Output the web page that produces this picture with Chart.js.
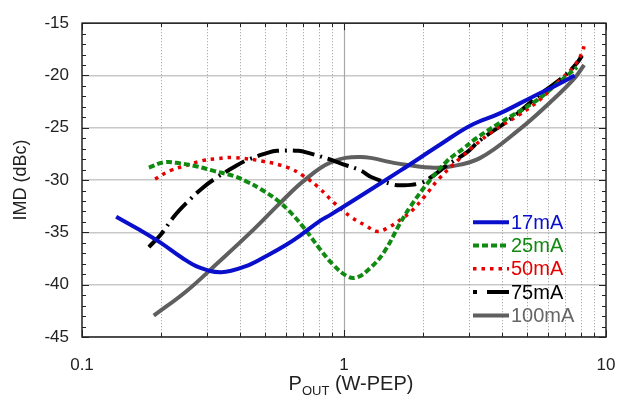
<!DOCTYPE html>
<html>
<head>
<meta charset="utf-8">
<script src="https://cdn.jsdelivr.net/npm/chart.js@4/dist/chart.umd.min.js"></script>
<style>
  html, body { margin: 0; padding: 0; background: #fff; }
  #wrap { width: 617px; height: 400px; }
</style>
</head>
<body>
<div id="wrap"><canvas id="myChart" width="617" height="400"></canvas></div>
<script>
// values: output power (W-PEP) and IMD (dBc) per bias current
var labels = ['17mA', '25mA', '50mA', '75mA', '100mA'];

var pout17 = [0.135, 0.167, 0.2, 0.24, 0.28, 0.34, 0.42, 0.51, 0.6, 0.68, 0.81, 0.89, 1.16, 1.64, 2.33, 3.03, 3.95, 5.28, 6.5, 7.6];
var imd17 = [-33.5, -34.8, -36.0, -37.4, -38.35, -38.8, -38.25, -37.2, -36.2, -35.3, -33.9, -33.3, -31.5, -29.1, -26.6, -24.8, -23.6, -22.0, -20.9, -20.0];

var pout25 = [0.18, 0.205, 0.237, 0.275, 0.316, 0.378, 0.43, 0.48, 0.555, 0.62, 0.70, 0.81, 0.91, 1.03, 1.12, 1.26, 1.42, 1.64, 1.79, 2.07, 2.47, 2.85, 3.2, 3.95, 5.28, 6.3, 7.75];
var imd25 = [-28.8, -28.3, -28.4, -28.7, -29.1, -29.6, -30.2, -30.85, -31.9, -33.0, -34.5, -36.6, -38.1, -39.2, -39.3, -38.4, -36.9, -34.1, -32.55, -30.4, -28.2, -27.0, -26.0, -24.5, -22.6, -21.1, -19.2];

var pout50 = [0.19, 0.217, 0.25, 0.287, 0.33, 0.378, 0.49, 0.61, 0.70, 0.8, 0.91, 1.06, 1.22, 1.33, 1.46, 1.68, 1.82, 2.04, 2.3, 2.78, 3.62, 4.7, 5.6, 6.7, 7.5, 8.15, 8.25];
var imd50 = [-29.9, -29.1, -28.6, -28.15, -27.95, -27.85, -28.2, -28.8, -29.6, -30.7, -32.1, -33.5, -34.4, -34.9, -34.6, -33.6, -32.9, -31.5, -29.9, -27.9, -25.5, -23.7, -22.3, -20.4, -19.2, -17.7, -17.0];

var pout75 = [0.18, 0.2, 0.224, 0.25, 0.29, 0.327, 0.385, 0.43, 0.51, 0.555, 0.67, 0.73, 0.89, 0.97, 1.16, 1.27, 1.53, 1.66, 1.95, 2.14, 2.5, 2.96, 3.3, 4.4, 5.6, 6.9, 7.75, 8.1];
var imd75 = [-36.4, -35.2, -33.5, -32.2, -30.7, -29.75, -28.67, -28.05, -27.4, -27.2, -27.2, -27.4, -28.05, -28.4, -29.1, -29.7, -30.4, -30.5, -30.3, -29.75, -28.5, -27.3, -26.2, -24.0, -21.8, -20.1, -18.8, -18.1];

var pout100 = [0.188, 0.251, 0.327, 0.44, 0.57, 0.70, 0.89, 1.16, 1.59, 2.14, 2.54, 3.3, 4.7, 6.1, 7.5, 8.25];
var imd100 = [-42.96, -40.6, -38.0, -35.0, -32.2, -30.1, -28.3, -27.8, -28.4, -28.8, -28.7, -27.9, -25.1, -22.6, -20.4, -19.0];

var xTicks = [0.1, 0.2, 0.3, 0.4, 0.5, 0.6, 0.7, 0.8, 0.9, 1, 2, 3, 4, 5, 6, 7, 8, 9, 10];
var xLabelled = [0.1, 1, 10];

function pts(xs, ys) {
    return xs.map(function (x, i) { return { x: x, y: ys[i] }; });
}

// grid, frame, inside ticks, legend and axis titles
var decor = {
    id: 'decor',
    beforeDatasetsDraw: function (chart) {
        var ctx = chart.ctx, a = chart.chartArea, xs = chart.scales.x;
        ctx.save();
        xTicks.forEach(function (v) {
            if (v === 0.1 || v === 10) return;
            var px = Math.round(xs.getPixelForValue(v)) + 0.5;
            ctx.beginPath();
            if (v === 1) {
                ctx.setLineDash([]);
                ctx.strokeStyle = '#a8a8a8';
                ctx.lineWidth = 1.2;
            } else {
                ctx.setLineDash([1, 2]);
                ctx.strokeStyle = '#9a9a9a';
                ctx.lineWidth = 1;
            }
            ctx.moveTo(px, a.top);
            ctx.lineTo(px, a.bottom);
            ctx.stroke();
        });
        ctx.restore();
    },
    afterDatasetsDraw: function (chart) {
        var ctx = chart.ctx, a = chart.chartArea, xs = chart.scales.x, ys = chart.scales.y;
        ctx.save();
        ctx.setLineDash([]);
        ctx.strokeStyle = '#222';
        ctx.lineWidth = 1.5;
        ctx.strokeRect(a.left, a.top, a.right - a.left, a.bottom - a.top);

        // minor ticks
        ctx.lineWidth = 1;
        ctx.beginPath();
        for (var v = -45; v <= -15; v++) {
            var py = Math.round(ys.getPixelForValue(v)) + 0.5;
            var len = (v % 5 === 0) ? 7 : 4;
            ctx.moveTo(a.left, py); ctx.lineTo(a.left + len, py);
            ctx.moveTo(a.right, py); ctx.lineTo(a.right - len, py);
        }
        xTicks.forEach(function (t) {
            var px = Math.round(xs.getPixelForValue(t)) + 0.5;
            var len = xLabelled.indexOf(t) >= 0 ? 7 : 4;
            ctx.moveTo(px, a.bottom); ctx.lineTo(px, a.bottom - len);
            ctx.moveTo(px, a.top); ctx.lineTo(px, a.top + len);
        });
        ctx.stroke();

        // legend inside the plot
        var lx = a.right - 133, ly = a.top + 199;
        ctx.font = '20px "Liberation Sans", Arial, sans-serif';
        ctx.textBaseline = 'middle';
        ctx.textAlign = 'left';
        chart.data.datasets.forEach(function (ds, i) {
            var y = ly + i * 23.3;
            ctx.beginPath();
            ctx.strokeStyle = ds.borderColor;
            ctx.lineWidth = ds.borderWidth;
            ctx.setLineDash(ds.legendDash || ds.borderDash || []);
            ctx.moveTo(lx, y);
            ctx.lineTo(lx + 36, y);
            ctx.stroke();
            ctx.fillStyle = ds.textColor;
            ctx.fillText(ds.label, lx + 38, y + 1);
        });

        // axis titles
        ctx.fillStyle = '#222';
        ctx.textBaseline = 'alphabetic';
        var big = '20px "Liberation Sans", Arial, sans-serif';
        var small = '13px "Liberation Sans", Arial, sans-serif';
        ctx.font = big; var w1 = ctx.measureText('P').width;
        ctx.font = small; var w2 = ctx.measureText('OUT').width;
        ctx.font = big; var w3 = ctx.measureText(' (W-PEP)').width;
        var sx = 351 - (w1 + w2 + w3) / 2, by = 390;
        ctx.font = big; ctx.fillText('P', sx, by);
        ctx.font = small; ctx.fillText('OUT', sx + w1, by + 5);
        ctx.font = big; ctx.fillText(' (W-PEP)', sx + w1 + w2, by);

        ctx.font = '18px "Liberation Sans", Arial, sans-serif';
        ctx.translate(21, (a.top + a.bottom) / 2);
        ctx.rotate(-Math.PI / 2);
        ctx.textAlign = 'center';
        ctx.textBaseline = 'middle';
        ctx.fillText('IMD (dBc)', 0, 0);
        ctx.restore();
    }
};

Chart.defaults.font.family = '"Liberation Sans", Arial, sans-serif';
Chart.defaults.font.size = 17;
Chart.defaults.color = '#222';

var ctx = document.getElementById('myChart').getContext('2d');
var myChart = new Chart(ctx, {
    type: 'scatter',
    data: {
        datasets: [
            { label: labels[0], data: pts(pout17, imd17), borderColor: '#0a0fcc', textColor: '#0a0fcc', borderWidth: 4 },
            { label: labels[1], data: pts(pout25, imd25), borderColor: '#118a11', textColor: '#118a11', borderWidth: 4, borderDash: [6, 3] },
            { label: labels[2], data: pts(pout50, imd50), borderColor: '#e60000', textColor: '#e60000', borderWidth: 3.5, borderDash: [3.5, 5] },
            { label: labels[3], data: pts(pout75, imd75), borderColor: '#000000', textColor: '#000000', borderWidth: 4, borderDash: [22, 6, 2, 6], legendDash: [4, 10, 22] },
            { label: labels[4], data: pts(pout100, imd100), borderColor: '#5f5f5f', textColor: '#666666', borderWidth: 4 }
        ].map(function (ds) {
            ds.showLine = true;
            ds.pointRadius = 0;
            ds.pointHoverRadius = 0;
            ds.tension = 0.4;
            ds.fill = false;
            return ds;
        })
    },
    options: {
        responsive: false,
        animation: false,
        events: [],
        layout: { padding: { top: 15, right: 11, left: 0, bottom: 0 } },
        plugins: {
            legend: { display: false },
            tooltip: { enabled: false }
        },
        scales: {
            x: {
                type: 'logarithmic',
                min: 0.1,
                max: 10,
                afterBuildTicks: function (scale) {
                    scale.ticks = xTicks.map(function (v) { return { value: v }; });
                },
                afterFit: function (scale) {
                    scale.height = 63;
                    scale.paddingLeft = 0;
                    scale.paddingRight = 0;
                },
                ticks: {
                    autoSkip: false,
                    maxRotation: 0,
                    padding: 10,
                    color: '#222',
                    callback: function (v) {
                        return xLabelled.indexOf(v) >= 0 ? String(v) : '';
                    }
                },
                grid: { display: false },
                border: { display: false }
            },
            y: {
                min: -45,
                max: -15,
                afterFit: function (scale) { scale.width = 82; },
                ticks: { stepSize: 5, padding: 13, color: '#222' },
                grid: { color: '#c8c8c8', lineWidth: 1.5, drawTicks: false },
                border: { display: false }
            }
        }
    },
    plugins: [decor]
});
</script>
</body>
</html>
